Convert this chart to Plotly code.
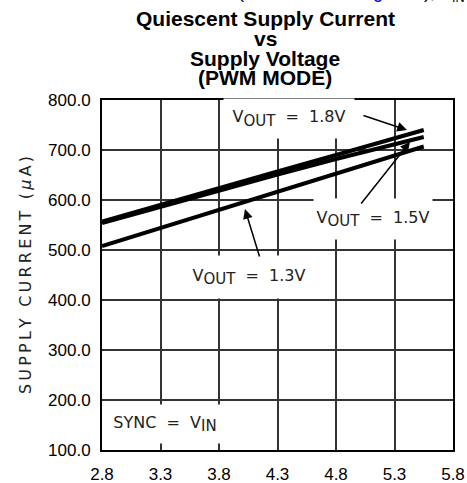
import plotly.graph_objects as go

# supply voltage (V) and quiescent current (uA) for each output setting
vin = [2.8, 3.3, 3.8, 4.3, 4.8, 5.3, 5.55]
i_18 = [557, 591, 624, 657, 690, 723, 740]
i_15 = [554, 587, 619, 651, 682, 712, 726]
i_13 = [508, 544, 580, 616, 651, 687, 707]

x_ticks = [2.8, 3.3, 3.8, 4.3, 4.8, 5.3, 5.8]
y_ticks = [100, 200, 300, 400, 500, 600, 700, 800]

W, H = 467, 483
L, R, T, B = 102, 14, 100, 33

fig = go.Figure()
for ys in (i_13, i_15, i_18):
    fig.add_trace(go.Scatter(x=vin, y=ys, mode="lines",
                             line=dict(color="black", width=4), hoverinfo="skip"))

lab_font = dict(family="DejaVu Sans", size=16, color="#222")
sub = "<sub><span style='font-size:15px'>%s</span></sub>"
sp = "\u00a0"

def label(text, x, y, w, h):
    fig.add_annotation(x=x, y=y, xref="x", yref="y", text=text, showarrow=False,
                       bgcolor="white", width=w, height=h, font=lab_font,
                       xanchor="center", yanchor="middle")

def arrow(x0, y0, x1, y1):
    fig.add_annotation(x=x1, y=y1, ax=x0, ay=y0, xref="x", yref="y",
                       axref="x", ayref="y", text="", showarrow=True,
                       arrowhead=2, arrowsize=1.3, arrowwidth=1.5, arrowcolor="black")

label("V" + sub % "OUT" + sp + sp + "=" + sp + sp + "1.8V", 4.40, 764, 128, 37)
label("V" + sub % "OUT" + sp + sp + "=" + sp + sp + "1.5V", 5.12, 563, 116, 38)
label("V" + sub % "OUT" + sp + sp + "=" + sp + sp + "1.3V", 4.06, 446, 132, 40)
label("SYNC" + sp + sp + "=" + sp + sp + "V" + sub % "IN", 3.338, 152, 118, 36)

arrow(5.022, 770, 5.407, 740)
arrow(5.005, 590, 5.432, 716)
arrow(4.150, 484, 4.022, 582)

# title lines
def px_x(px):
    return (px - L) / (W - L - R)

def px_y(py):
    return (H - B - py) / (H - T - B)

title_font = dict(family="Liberation Sans", size=21, color="black")
for txt, py in [("<b>Quiescent Supply Current</b>", 19), ("<b>vs</b>", 39),
                ("<b>Supply Voltage</b>", 59), ("<b>(PWM MODE)</b>", 77)]:
    fig.add_annotation(x=px_x(265), y=px_y(py), xref="paper", yref="paper", text=txt,
                       showarrow=False, font=title_font, xanchor="center", yanchor="middle")

# clipped line of text above the chart
fig.add_annotation(x=px_x(467), y=px_y(-7), xref="paper", yref="paper",
                   text="(Test Circuit of <span style='color:#0000ee'>Figure 1</span>), V<sub>IN</sub>",
                   showarrow=False, font=dict(family="Liberation Sans", size=18, color="black"),
                   xanchor="right", yanchor="middle")

axis_common = dict(showline=True, mirror=True, linecolor="black", linewidth=2,
                   showgrid=True, gridcolor="#333", gridwidth=1.5, zeroline=False,
                   ticks="", automargin=False,
                   tickfont=dict(family="Liberation Sans", size=17, color="black"))

ytitle = "\u2009".join("SUPPLY CURRENT (") + "\u2009<i>µ</i>\u2009A\u2009)"
fig.update_xaxes(range=[2.8, 5.8], tickvals=x_ticks, tickformat=".1f",
                 ticklabelstandoff=8, **axis_common)
fig.update_yaxes(range=[100, 800], tickvals=y_ticks, tickformat=".1f",
                 ticklabelstandoff=6,
                 title=dict(text=ytitle,
                            font=dict(family="DejaVu Sans", size=16, color="#222"),
                            standoff=12),
                 **axis_common)

fig.update_layout(width=W, height=H, margin=dict(l=L, r=R, t=T, b=B),
                  paper_bgcolor="white", plot_bgcolor="white", showlegend=False)

fig.write_html("out.html", config={"displayModeBar": False},
               post_script="document.body.style.margin='0';")
